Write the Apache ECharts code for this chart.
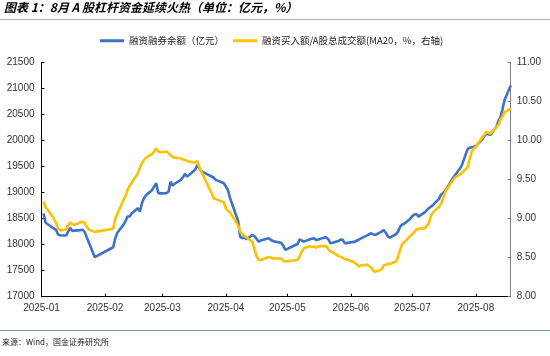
<!DOCTYPE html>
<html><head><meta charset="utf-8">
<script src="https://cdn.jsdelivr.net/npm/echarts@6/dist/echarts.min.js"></script>
<style>html,body{margin:0;padding:0;background:#fff}#c{width:550px;height:356px}</style>
</head><body><div id="c"></div>
<script>
const titleText = '图表 1：8月 A 股杠杆资金延续火热（单位：亿元，%）';
const sourceText = '来源：Wind，国金证券研究所';
const seriesNames = ['融资融券余额（亿元）', '融资买入额/A股总成交额(MA20，%，右轴)'];
const leftTicks = {min: 17000, max: 21500, interval: 500};
const rightTicks = {min: 8, max: 11, interval: 0.5};
const dates = ['2025-01-02','2025-01-03','2025-01-06','2025-01-07','2025-01-08','2025-01-09','2025-01-10','2025-01-13','2025-01-14','2025-01-15','2025-01-16','2025-01-17','2025-01-20','2025-01-21','2025-01-22','2025-01-23','2025-01-24','2025-01-27',
'2025-02-05','2025-02-06','2025-02-07','2025-02-10','2025-02-11','2025-02-12','2025-02-13','2025-02-14','2025-02-17','2025-02-18','2025-02-19','2025-02-20','2025-02-21','2025-02-24','2025-02-25','2025-02-26','2025-02-27','2025-02-28',
'2025-03-03','2025-03-04','2025-03-05','2025-03-06','2025-03-07','2025-03-10','2025-03-11','2025-03-12','2025-03-13','2025-03-14','2025-03-17','2025-03-18','2025-03-19','2025-03-20','2025-03-21','2025-03-24','2025-03-25','2025-03-26','2025-03-27','2025-03-28','2025-03-31',
'2025-04-01','2025-04-02','2025-04-03','2025-04-07','2025-04-08','2025-04-09','2025-04-10','2025-04-11','2025-04-14','2025-04-15','2025-04-16','2025-04-17','2025-04-18','2025-04-21','2025-04-22','2025-04-23','2025-04-24','2025-04-25','2025-04-28','2025-04-29','2025-04-30',
'2025-05-06','2025-05-07','2025-05-08','2025-05-09','2025-05-12','2025-05-13','2025-05-14','2025-05-15','2025-05-16','2025-05-19','2025-05-20','2025-05-21','2025-05-22','2025-05-23','2025-05-26','2025-05-27','2025-05-28','2025-05-29','2025-05-30',
'2025-06-03','2025-06-04','2025-06-05','2025-06-06','2025-06-09','2025-06-10','2025-06-11','2025-06-12','2025-06-13','2025-06-16','2025-06-17','2025-06-18','2025-06-19','2025-06-20','2025-06-23','2025-06-24','2025-06-25','2025-06-26','2025-06-27','2025-06-30',
'2025-07-01','2025-07-02','2025-07-03','2025-07-04','2025-07-07','2025-07-08','2025-07-09','2025-07-10','2025-07-11','2025-07-14','2025-07-15','2025-07-16','2025-07-17','2025-07-18','2025-07-21','2025-07-22','2025-07-23','2025-07-24','2025-07-25','2025-07-28','2025-07-29','2025-07-30','2025-07-31',
'2025-08-01','2025-08-04','2025-08-05','2025-08-06','2025-08-07','2025-08-08','2025-08-11','2025-08-12','2025-08-13','2025-08-14','2025-08-15','2025-08-18'];
const marginBalance = [18600,18420,18340,18310,18290,18200,18180,18175,18250,18320,18265,18270,18280,18285,18250,18150,18053,17760,
17950,18120,18230,18380,18450,18540,18540,18600,18700,18635,18796,18892,18950,19050,19120,19181,18990,18985,
18990,19020,19210,19135,19170,19245,19295,19360,19310,19340,19440,19530,19470,19410,19390,19330,19310,19290,19245,19230,19180,
19115,19050,18900,18450,18150,18123,18142,18104,18186,18160,18110,18058,18080,18115,18123,18090,18070,18058,18038,17980,17900,
18013,18104,18080,18058,18104,18115,18123,18090,18098,18135,18142,18100,18030,18035,18070,18100,18095,18030,18030,
18058,18080,18100,18120,18180,18200,18219,18195,18186,18250,18283,18230,18160,18135,18200,18250,18340,18385,18400,18500,
18550,18580,18590,18538,18620,18660,18700,18730,18760,18880,18960,18995,19030,19090,19290,19340,19400,19450,19510,19840,19860,19870,19880,
19895,20020,20080,20130,20120,20110,20260,20380,20450,20600,20780,21060];
const buyRatio = [9.22,9.15,9.04,9.00,8.95,8.88,8.85,8.86,8.92,8.95,8.93,8.92,8.95,8.96,8.95,8.90,8.86,8.83,
8.87,9.00,9.06,9.24,9.29,9.37,9.42,9.46,9.58,9.65,9.71,9.75,9.78,9.83,9.86,9.90,9.86,9.85,
9.86,9.84,9.81,9.79,9.78,9.77,9.76,9.75,9.74,9.73,9.72,9.74,9.66,9.60,9.55,9.38,9.33,9.26,9.25,9.24,9.21,
9.13,9.10,9.08,8.91,8.83,8.80,8.78,8.76,8.70,8.60,8.52,8.47,8.47,8.50,8.51,8.50,8.49,8.49,8.49,8.46,8.45,
8.47,8.52,8.58,8.62,8.645,8.64,8.64,8.63,8.645,8.648,8.648,8.61,8.58,8.57,8.52,8.51,8.50,8.48,8.48,
8.435,8.41,8.385,8.40,8.41,8.39,8.37,8.33,8.32,8.35,8.40,8.41,8.42,8.42,8.45,8.51,8.60,8.67,8.70,8.78,
8.80,8.83,8.86,8.87,8.875,8.91,8.94,9.03,9.08,9.15,9.19,9.26,9.34,9.38,9.50,9.53,9.55,9.56,9.58,9.66,9.77,9.86,9.90,
9.92,10.04,10.07,10.11,10.10,10.09,10.17,10.20,10.27,10.31,10.36,10.41];
const xRange = ['2025-01-01', '2025-08-18'];

const chart = echarts.init(document.getElementById('c'), null, {renderer: 'canvas'});
const numFont = "'Liberation Sans Narrow','Liberation Sans',sans-serif";
const cjkFont = "'Noto Sans CJK SC',sans-serif";
function pad(n){return n<10?'0'+n:''+n;}
chart.setOption({
  animation: false,
  backgroundColor: '#fff',
  grid: {left: 41.5, right: 39.3, top: 62.5, bottom: 59.3, containLabel: false},
  legend: {
    data: seriesNames, left: 95, top: 31, itemWidth: 24, itemHeight: 3, itemGap: 9, icon: 'rect',
    textStyle: {fontFamily: cjkFont, fontSize: 9.5, color: '#222'}
  },
  xAxis: {
    type: 'time', min: xRange[0], max: xRange[1],
    minInterval: 28*86400000, maxInterval: 31*86400000,
    axisLine: {show: true, lineStyle: {color: '#000', width: 1}},
    axisTick: {show: true, inside: true, length: 3, lineStyle: {color: '#000'}},
    splitLine: {show: false},
    axisLabel: {fontFamily: numFont, fontSize: 10, color: '#333', margin: 7, showMinLabel: true, hideOverlap: false,
      formatter: function(v){const d=new Date(v);return d.getFullYear()+'-'+pad(d.getMonth()+1);}}
  },
  yAxis: [{
    type: 'value', min: leftTicks.min, max: leftTicks.max, interval: leftTicks.interval,
    axisLine: {show: true, lineStyle: {color: '#000', width: 1}},
    axisTick: {show: true, inside: true, length: 3, lineStyle: {color: '#000'}},
    splitLine: {show: false},
    axisLabel: {fontFamily: numFont, fontSize: 10, color: '#333', margin: 7, formatter: function(v){return String(v);}}
  }, {
    type: 'value', min: rightTicks.min, max: rightTicks.max, interval: rightTicks.interval, position: 'right',
    axisLine: {show: true, lineStyle: {color: '#7f7f7f', width: 1}},
    axisTick: {show: true, inside: true, length: 3, lineStyle: {color: '#7f7f7f'}},
    splitLine: {show: false},
    axisLabel: {fontFamily: numFont, fontSize: 10, color: '#333', margin: 6, formatter: function(v){return v.toFixed(2);}}
  }],
  series: [{
    name: seriesNames[0], type: 'line', yAxisIndex: 0, showSymbol: false, symbol: 'none',
    lineStyle: {color: '#3c72c8', width: 2.6}, itemStyle: {color: '#3c72c8'},
    data: dates.map((d,i)=>[d, marginBalance[i]])
  }, {
    name: seriesNames[1], type: 'line', yAxisIndex: 1, showSymbol: false, symbol: 'none',
    lineStyle: {color: '#ffc000', width: 2.6}, itemStyle: {color: '#ffc000'},
    data: dates.map((d,i)=>[d, buyRatio[i]])
  }],
  graphic: [
    {type: 'text', left: 4, top: 1, style: {text: titleText, font: "italic bold 12px 'Noto Sans CJK SC', sans-serif", fill: '#000'}},
    {type: 'line', shape: {x1: 0, y1: 19.5, x2: 550, y2: 19.5}, style: {stroke: '#9fb6c9', lineWidth: 1}},
    {type: 'line', shape: {x1: 0, y1: 330.5, x2: 550, y2: 330.5}, style: {stroke: '#7c9cb6', lineWidth: 1}},
    {type: 'text', left: 2, top: 338, style: {text: sourceText, font: "8px 'Noto Sans CJK SC', sans-serif", fill: '#222'}}
  ]
});
</script></body></html>
